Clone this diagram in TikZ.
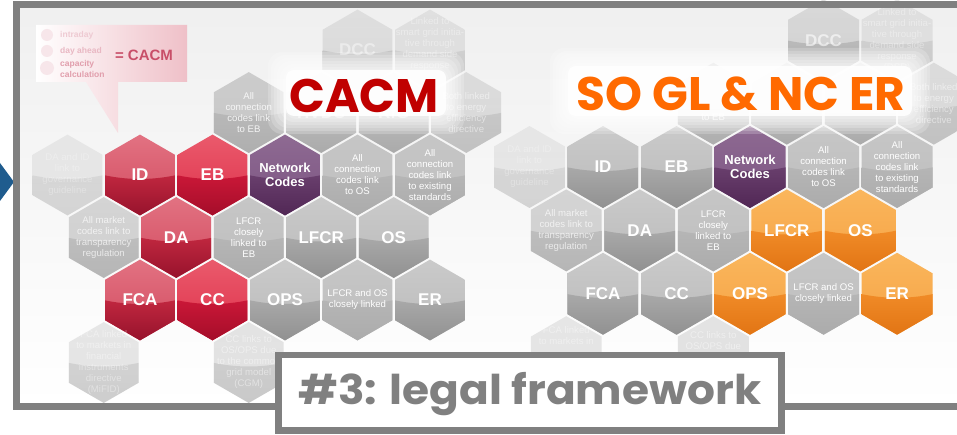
\documentclass[tikz,border=0pt]{standalone}
\usepackage{fontspec}
\setmainfont{Liberation Sans}
\newfontfamily\titlefont{Poppins}
\usetikzlibrary{calc}
\definecolor{framegray}{HTML}{808080}
\definecolor{arrowblue}{HTML}{1F5C8E}
\definecolor{cacmred}{HTML}{C00000}
\definecolor{soorange}{HTML}{FF6A00}
\definecolor{bubblepink}{HTML}{EFC0C8}
\definecolor{eqpink}{HTML}{C84E68}
\definecolor{redT}{HTML}{E27282}\definecolor{redM}{HTML}{D24A5E}\definecolor{redL}{HTML}{C22840}\definecolor{redB}{HTML}{92102A}
\definecolor{crT}{HTML}{EA5A6C}\definecolor{crM}{HTML}{DE304A}\definecolor{crL}{HTML}{CC1838}\definecolor{crB}{HTML}{A00C28}
\definecolor{grT}{HTML}{CACACA}\definecolor{grM}{HTML}{BABABA}\definecolor{grL}{HTML}{AAAAAA}\definecolor{grB}{HTML}{8E8E8E}
\definecolor{txT}{HTML}{C6C6C6}\definecolor{txM}{HTML}{BEBEBE}\definecolor{txL}{HTML}{B6B6B6}\definecolor{txB}{HTML}{AAAAAA}
\definecolor{puT}{HTML}{8E6A92}\definecolor{puM}{HTML}{7C5482}\definecolor{puL}{HTML}{6A406E}\definecolor{puB}{HTML}{4E2452}
\definecolor{orT}{HTML}{FAB65C}\definecolor{orM}{HTML}{F6A244}\definecolor{orL}{HTML}{F18C28}\definecolor{orB}{HTML}{E07212}
\tikzset{
  hexred/.code={\colorlet{hT}{redT}\colorlet{hM}{redM}\colorlet{hL}{redL}\colorlet{hB}{redB}},
  hexcrimson/.code={\colorlet{hT}{crT}\colorlet{hM}{crM}\colorlet{hL}{crL}\colorlet{hB}{crB}},
  hexgray/.code={\colorlet{hT}{grT}\colorlet{hM}{grM}\colorlet{hL}{grL}\colorlet{hB}{grB}},
  hextxt/.code={\colorlet{hT}{txT}\colorlet{hM}{txM}\colorlet{hL}{txL}\colorlet{hB}{txB}},
  hexpurple/.code={\colorlet{hT}{puT}\colorlet{hM}{puM}\colorlet{hL}{puL}\colorlet{hB}{puB}},
  hexorange/.code={\colorlet{hT}{orT}\colorlet{hM}{orM}\colorlet{hL}{orL}\colorlet{hB}{orB}},
  hextext/.style={text=white, align=center, inner sep=0pt},
  fbig/.style={font=\fontsize{17}{19}\selectfont\bfseries},
  fmid/.style={font=\fontsize{13}{14}\selectfont\bfseries},
  fsmall/.style={font=\fontsize{9.6}{11}\selectfont},
  bubtext/.style={anchor=west, inner sep=0pt, font=\fontsize{8.5}{9}\selectfont\bfseries},
}
\newcommand\hexr{40.4}
\newcommand\hexcell[7]{%
  \begin{scope}[shift={(#3,#4)}, opacity=#5, hex#1]
    \shade[top color=hT, bottom color=hM] (30:\hexr) -- (90:\hexr) -- (150:\hexr) -- (210:\hexr) -- (270:\hexr) -- (330:\hexr) -- cycle;
    \begin{scope}
      \clip (30:\hexr) -- (90:\hexr) -- (150:\hexr) -- (210:\hexr) -- (270:\hexr) -- (330:\hexr) -- cycle;
      \shade[top color=hL, bottom color=hB] (-45,-2) .. controls (-15,6) and (15,6) .. (45,-2) -- (45,45) -- (-45,45) -- cycle;
    \end{scope}
    \node[hextext, #6] (#2) at (0,0) {#7};
  \end{scope}}
% one panel: #1 prefix, #2 kind of the CACM codes, #3 DCC opacity,
% #4 MiFID text, #5 CGM text, #6 HVDC text, #7 RfG text, #8 EB-link text
\newcommand\panel[8]{%
  \hexcell{gray}{#1dcc}{217.5}{-125}{#3}{fbig}{DCC}
  \hexcell{txt}{#1dsr}{290}{-125}{0.38}{fsmall}{Linked to\\smart grid initia-\\tive through\\demand side\\response\\(DSR)}
  \hexcell{txt}{#1ceb}{108.75}{-62.5}{0.85}{fsmall}{#8}
  \hexcell{gray}{#1hvdc}{181.25}{-62.5}{0.6}{fbig}{#6}
  \hexcell{gray}{#1rfg}{253.75}{-62.5}{0.6}{fbig}{#7}
  \hexcell{txt}{#1eed}{326.25}{-62.5}{0.5}{fsmall}{Both linked\\to energy\\efficiency\\directive}
  \hexcell{txt}{#1gov}{-72.5}{0}{0.3}{fsmall}{DA and ID\\link to\\governance\\guideline}
  \hexcell{#2}{#1id}{0}{0}{1}{fbig}{ID}
  \hexcell{#2crim}{#1eb}{72.5}{0}{1}{fbig}{EB}
  \hexcell{purple}{#1nc}{145}{0}{1}{fmid}{Network\\Codes}
  \hexcell{txt}{#1cos}{217.5}{0}{1}{fsmall}{All\\connection\\codes link\\to OS}
  \hexcell{txt}{#1cstd}{290}{0}{1}{fsmall}{All\\connection\\codes link\\to existing\\standards}
  \hexcell{txt}{#1mkt}{-36.25}{62.5}{0.7}{fsmall}{All market\\codes link to\\transparency\\regulation}
  \hexcell{#2}{#1da}{36.25}{62.5}{1}{fbig}{DA}
  \hexcell{txt}{#1lfeb}{108.75}{62.5}{1}{fsmall}{LFCR\\closely\\linked to\\EB}
  \hexcell{#2so}{#1lfcr}{181.25}{62.5}{1}{fbig}{LFCR}
  \hexcell{#2so}{#1os}{253.75}{62.5}{1}{fbig}{OS}
  \hexcell{#2}{#1fca}{0}{125}{1}{fbig}{FCA}
  \hexcell{#2crim}{#1cc}{72.5}{125}{1}{fbig}{CC}
  \hexcell{#2so}{#1ops}{145}{125}{1}{fbig}{OPS}
  \hexcell{txt}{#1lfos}{217.5}{125}{1}{fsmall}{LFCR and OS\\closely linked}
  \hexcell{#2so}{#1er}{290}{125}{1}{fbig}{ER}
  \hexcell{txt}{#1mifid}{-36.25}{187.5}{0.4}{fsmall}{#4}
  \hexcell{txt}{#1cgm}{108.75}{187.5}{0.45}{fsmall}{#5}
}
\tikzset{
  hexredcrim/.style={hexcrimson}, hexredso/.style={hexgray},
  hexgraycrim/.style={hexgray}, hexgrayso/.style={hexorange},
}
\newcommand\glow[4]{% x1 y1 x2 y2
  \foreach \e in {18,15,12,9,6,3}{
    \fill[white, opacity=0.2, rounded corners=14] (#1-\e,#2-\e) rectangle (#3+\e,#4+\e);
  }
  \fill[white, opacity=0.9, rounded corners=8] (#1,#2) rectangle (#3,#4);
}
\begin{document}
\begin{tikzpicture}[x=1pt,y=-1pt]
\useasboundingbox (0,0) rectangle (957,435);
\clip (0,0) rectangle (957,435);
\fill[white] (0,0) rectangle (957,435);
% background inside frame
\shade[top color=black!6, bottom color=white] (16,5) rectangle (970,407);
% blue arrow
\fill[arrowblue] (0,163) -- (14,182) -- (0,201) -- cycle;
% panels
\begin{scope}[shift={(140,175)}]
  \panel{L}{red}{0.45}{FCA linked\\to markets in\\financial\\instruments\\directive\\(MiFID)}{CC links to\\OS/OPS due\\to the common\\grid model\\(CGM)}{HVDC}{RfG}{All\\connection\\codes link\\to EB}
\end{scope}
\begin{scope}[shift={(603,167)}, scale=1.014]
  \panel{R}{gray}{0.6}{FCA linked\\to markets in\\~\\~\\~\\~}{CC links to\\OS/OPS due\\~\\~\\~}{}{}{~\\~\\~\\to EB}
\end{scope}
% callout bubble
\shade[left color=white, right color=bubblepink] (36,25) -- (187,25) -- (187,82) -- (118,82) -- (118,133) -- (86,82) -- (36,82) -- cycle;
\fill[eqpink!14] (47,35) circle (6);
\fill[eqpink!14] (47,51) circle (6);
\fill[eqpink!14] (47,68) circle (7);
\node[bubtext, text=eqpink!30] (bintra) at (60,35) {intraday};
\node[bubtext, text=eqpink!40] (bday) at (60,51) {day ahead};
\node[bubtext, text=eqpink!55] (bcap1) at (60,64) {capacity};
\node[bubtext, text=eqpink!55] (bcap2) at (60,74) {calculation};
\node[inner sep=0pt, text=eqpink, font=\fontsize{15}{16}\selectfont\bfseries] (beq) at (144,55) {= CACM};
% title glows
\glow{286}{70}{446}{116}
\glow{568}{66}{912}{116}
\node[inner sep=0pt, text=cacmred, font=\titlefont\bfseries\fontsize{47}{50}\selectfont] (cacm) at (364,96) {CACM};
\node[inner sep=0pt, text=soorange, font=\titlefont\bfseries\fontsize{47}{50}\selectfont] (sogl) at (741,94) {SO GL \& NC ER};
% frame
\draw[framegray, line width=7] (16,5) rectangle (975,406.5);
% label box
\draw[framegray, line width=6.5, fill=white] (278.5,355) rectangle (781.5,430.5);
\node[inner sep=0pt, text=framegray, font=\titlefont\bfseries\fontsize{41}{44}\selectfont] (label) at (530,394) {\scalebox{1.07}[1]{\#3: legal framework}};
\end{tikzpicture}
\end{document}
